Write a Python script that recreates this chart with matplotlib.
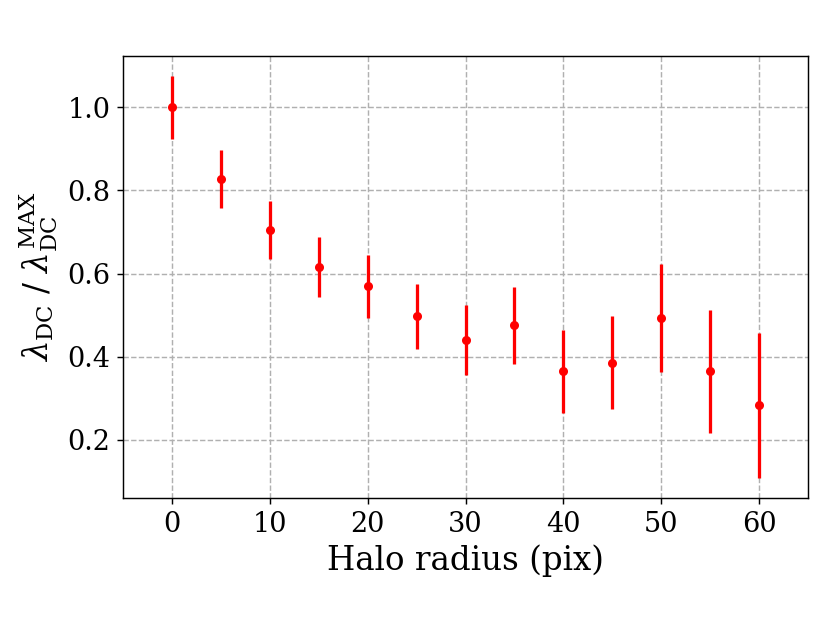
import numpy as np
import matplotlib
matplotlib.use('Agg')
import matplotlib.pyplot as plt

# halo radius (pix) and normalized dark-count rate
radius = [0, 5, 10, 15, 20, 25, 30, 35, 40, 45, 50, 55, 60]
ratio = [1.0, 0.827, 0.705, 0.615, 0.569, 0.497, 0.44, 0.475, 0.365, 0.385, 0.493, 0.365, 0.283]
ratio_err = [0.075, 0.07, 0.07, 0.072, 0.075, 0.078, 0.085, 0.093, 0.1, 0.112, 0.13, 0.148, 0.175]

plt.rcParams['font.family'] = 'DejaVu Serif'
plt.rcParams['mathtext.fontset'] = 'dejavuserif'

fig = plt.figure(figsize=(6.4, 4.8), dpi=130)
ax = fig.add_subplot(111)
fig.subplots_adjust(left=0.148, right=0.971, bottom=0.202, top=0.910)

ax.errorbar(radius, ratio, yerr=ratio_err, fmt='o', color='red',
            markersize=4, elinewidth=1.8, capsize=0)
ax.set_xlim(-5, 65)
ax.grid(True, linestyle='--', color='#b0b0b0')
ax.set_axisbelow(True)
ax.tick_params(labelsize=15)
ax.set_xlabel('Halo radius (pix)', fontsize=18)
ax.set_ylabel(r'$\lambda_{\rm DC}$ / $\lambda_{\rm DC}^{\rm MAX}$', fontsize=18)

plt.savefig('out.png', dpi=130)
plt.close()
